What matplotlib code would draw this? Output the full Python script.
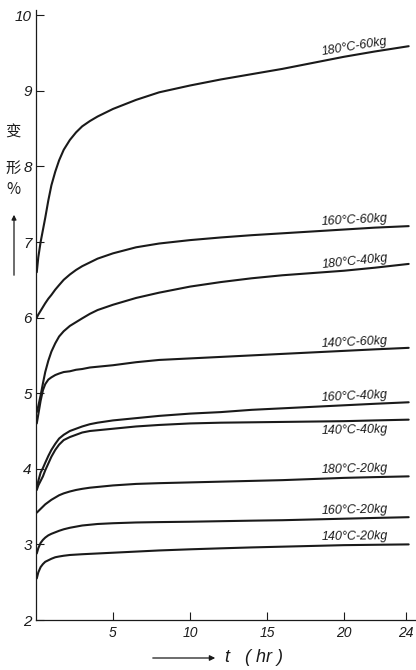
import numpy as np
import matplotlib
matplotlib.use("Agg")
import matplotlib.pyplot as plt

plt.rcParams['font.family'] = ['Liberation Sans', 'DejaVu Sans', 'Noto Sans CJK SC']

# time (hr)
t = [0.05, 0.15, 0.3, 0.45, 0.6, 0.8, 1.0, 1.25, 1.5, 1.8, 2.2, 2.6, 3, 3.5, 4,
     5, 6.5, 8, 10, 12, 14, 16, 18, 20, 22, 24.2]

s180_60 = [6.60, 6.80, 7.00, 7.16, 7.32, 7.55, 7.75, 7.93, 8.08, 8.22, 8.35, 8.45, 8.53, 8.60, 8.66,
           8.76, 8.88, 8.98, 9.07, 9.15, 9.22, 9.29, 9.37, 9.45, 9.52, 9.59]
s160_60 = [6.00, 6.04, 6.09, 6.14, 6.19, 6.25, 6.30, 6.37, 6.43, 6.50, 6.57, 6.63, 6.68, 6.73, 6.78,
           6.85, 6.93, 6.98, 7.025, 7.06, 7.09, 7.115, 7.14, 7.165, 7.19, 7.21]
s180_40 = [4.75, 4.83, 4.97, 5.13, 5.28, 5.43, 5.55, 5.66, 5.75, 5.82, 5.89, 5.94, 5.99, 6.05, 6.10,
           6.17, 6.26, 6.33, 6.41, 6.47, 6.52, 6.56, 6.59, 6.62, 6.66, 6.71]
s140_60 = [4.60, 4.72, 4.90, 5.04, 5.12, 5.18, 5.21, 5.24, 5.26, 5.28, 5.29, 5.31, 5.32, 5.34, 5.35,
           5.37, 5.41, 5.44, 5.46, 5.48, 5.50, 5.52, 5.54, 5.56, 5.58, 5.60]
s160_40 = [3.75, 3.84, 3.95, 4.01, 4.08, 4.17, 4.25, 4.33, 4.40, 4.45, 4.50, 4.53, 4.56, 4.59, 4.61,
           4.64, 4.67, 4.70, 4.73, 4.75, 4.78, 4.80, 4.82, 4.84, 4.86, 4.88]
s140_40 = [3.72, 3.78, 3.84, 3.90, 3.98, 4.07, 4.16, 4.25, 4.32, 4.38, 4.42, 4.45, 4.48, 4.50, 4.51,
           4.53, 4.56, 4.58, 4.60, 4.61, 4.615, 4.62, 4.625, 4.63, 4.64, 4.65]
s180_20 = [3.42, 3.44, 3.47, 3.50, 3.53, 3.56, 3.59, 3.62, 3.65, 3.675, 3.70, 3.72, 3.735, 3.75, 3.76,
           3.78, 3.80, 3.81, 3.82, 3.83, 3.84, 3.85, 3.865, 3.88, 3.89, 3.90]
s160_20 = [2.88, 2.95, 3.02, 3.06, 3.09, 3.12, 3.14, 3.16, 3.18, 3.20, 3.22, 3.235, 3.25, 3.26, 3.27,
           3.28, 3.29, 3.295, 3.30, 3.307, 3.314, 3.32, 3.33, 3.34, 3.35, 3.36]
s140_20 = [2.55, 2.63, 2.70, 2.74, 2.77, 2.79, 2.81, 2.83, 2.84, 2.85, 2.86, 2.865, 2.87, 2.875, 2.88,
           2.89, 2.905, 2.92, 2.935, 2.948, 2.96, 2.97, 2.98, 2.99, 2.995, 3.00]

series = [s180_60, s160_60, s180_40, s140_60, s160_40, s140_40, s180_20, s160_20, s140_20]
names = ["180°C-60kg", "160°C-60kg", "180°C-40kg", "140°C-60kg", "160°C-40kg",
         "140°C-40kg", "180°C-20kg", "160°C-20kg", "140°C-20kg"]
label_below = [False, False, False, False, False, True, False, False, False]

x_ticks = [5, 10, 15, 20, 24]
x_ticklabels = ["5", "10", "15", "20", "24"]
y_ticks = [2, 3, 4, 5, 6, 7, 8, 9, 10]
y_ticklabels = ["2", "3", "4", "5", "6", "7", "8", "9", "10"]

W, H = 416, 670
fig = plt.figure(figsize=(W / 100, H / 100), dpi=100)
ax = fig.add_axes([36 / W, 50 / H, 380 / W, 610 / H])
ax.set_xlim(0, 380 / 15.4)
ax.set_ylim(2, 2 + 610 / 75.6)

ink = "#1a1a1a"
for s in series:
    ax.plot(t, s, color=ink, lw=1.5, solid_capstyle="round", solid_joinstyle="round")

for sp in ["top", "right"]:
    ax.spines[sp].set_visible(False)
for sp in ["left", "bottom"]:
    ax.spines[sp].set_linewidth(0.9)
    ax.spines[sp].set_color(ink)

ax.set_xticks(x_ticks)
ax.set_xticklabels(x_ticklabels, fontsize=10, style="italic", color=ink)
ax.set_yticks(y_ticks)
ax.set_yticklabels(y_ticklabels, fontsize=11, style="italic", color=ink)
ax.tick_params(axis="both", direction="in", length=6, width=0.8, color=ink)
ax.tick_params(axis="y", pad=3)
ax.tick_params(axis="x", pad=4)

# curve labels
fig.canvas.draw()
t_lab = 20.7
for s, name, below in zip(series, names, label_below):
    yv = np.interp(t_lab, t, s)
    p1 = ax.transData.transform((20.0, np.interp(20.0, t, s)))
    p2 = ax.transData.transform((t[-1], s[-1]))
    ang = np.degrees(np.arctan2(p2[1] - p1[1], p2[0] - p1[0]))
    off = -7 if below else 6
    ax.annotate(name, xy=(t_lab, yv), xytext=(0, off), textcoords="offset points",
                ha="center", va="center", fontsize=9, style="italic",
                rotation=ang, color=ink)

# y label (vertical, stacked)
for ch, yp in zip(["变", "形", "%"], [132, 168, 189]):
    fig.text(13 / W, 1 - yp / H, ch, ha="center", va="center", fontsize=11,
             family=["Noto Sans CJK SC", "DejaVu Sans"], color=ink,
             style="italic" if ch == "%" else "normal")
fig.add_artist(matplotlib.patches.FancyArrowPatch(
    (14 / W, 1 - 278 / H), (14 / W, 1 - 212 / H), transform=fig.transFigure,
    arrowstyle="-|>", mutation_scale=7, lw=0.9, color=ink))

# x label
fig.add_artist(matplotlib.patches.FancyArrowPatch(
    (150 / W, 1 - 658 / H), (218 / W, 1 - 658 / H), transform=fig.transFigure,
    arrowstyle="-|>", mutation_scale=8, lw=0.9, color=ink))
fig.text(225 / W, 1 - 658 / H, "t   ( hr )", ha="left", va="center", fontsize=13,
         style="italic", color=ink)

fig.savefig("out.png", dpi=100, facecolor="white")
